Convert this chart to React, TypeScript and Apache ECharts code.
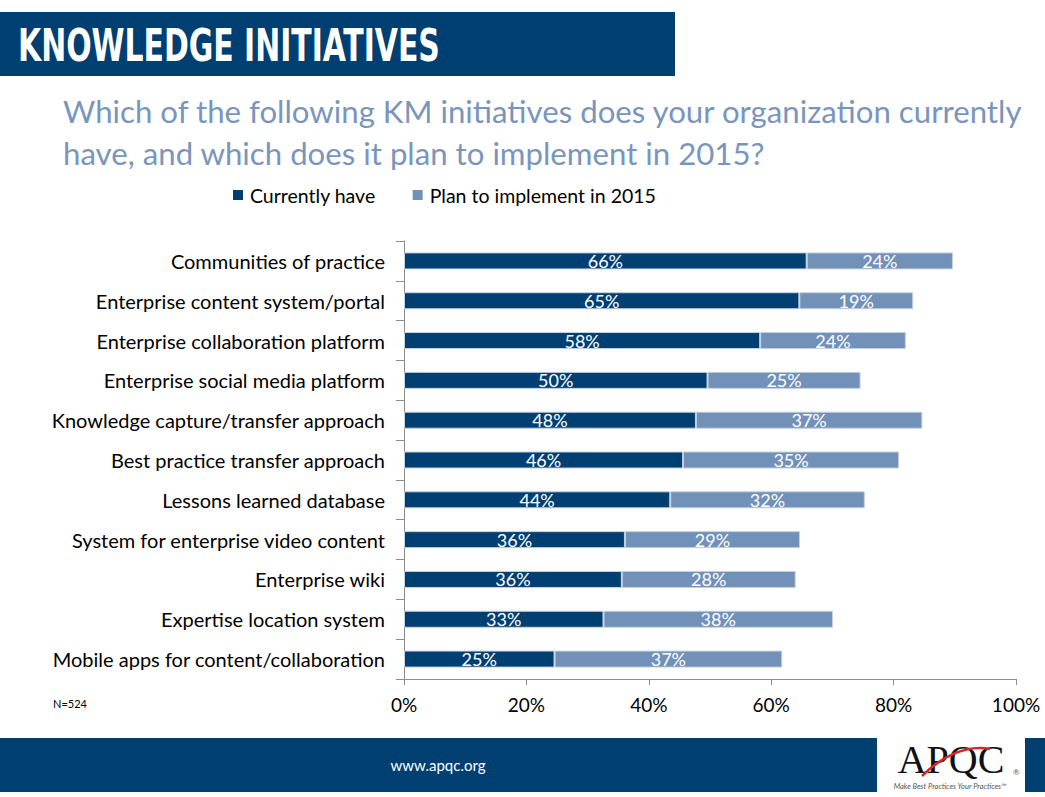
import React, { useEffect, useRef } from "react";
import * as echarts from "echarts";

const categories = [
  "Communities of practice",
  "Enterprise content system/portal",
  "Enterprise collaboration platform",
  "Enterprise social media platform",
  "Knowledge capture/transfer approach",
  "Best practice transfer approach",
  "Lessons learned database",
  "System for enterprise video content",
  "Enterprise wiki",
  "Expertise location system",
  "Mobile apps for content/collaboration",
];

const currentlyHave = [65.8, 64.6, 58.2, 49.6, 47.7, 45.6, 43.5, 36.1, 35.6, 32.6, 24.6];
const planIn2015 = [23.9, 18.6, 23.8, 25.0, 37.0, 35.3, 31.8, 28.6, 28.4, 37.5, 37.2];

const xTicks = [0, 20, 40, 60, 80, 100];

const DARK = "#003f72";
const LIGHT = "#7191b8";
const FONT = "Lato, 'Open Sans', sans-serif";
const NARROW = "'Liberation Sans Narrow', 'DejaVu Sans Condensed', 'Roboto', sans-serif";

export default function App() {
  const ref = useRef<HTMLDivElement>(null);

  useEffect(() => {
    if (!ref.current) return;
    const chart = echarts.init(ref.current, null, { renderer: "svg" });
    const labelFmt = (p: any) => Math.round(p.value) + "%";
    chart.setOption({
      animation: false,
      backgroundColor: "#ffffff",
      grid: { left: 404, right: 29, top: 241, bottom: 118, containLabel: false },
      legend: {
        left: 233,
        top: 185,
        padding: 0,
        itemWidth: 10,
        itemHeight: 10,
        itemGap: 37,
        icon: "rect",
        itemStyle: { borderWidth: 0 },
        textStyle: { fontSize: 19.5, fontFamily: FONT, color: "#000", padding: [0, 0, 0, 2] },
        data: ["Currently have", "Plan to implement in 2015"],
      },
      xAxis: {
        type: "value",
        min: xTicks[0],
        max: xTicks[xTicks.length - 1],
        interval: 20,
        axisLine: { show: true, lineStyle: { color: "#8c8c8c", width: 1 } },
        axisTick: { show: true, length: 6, lineStyle: { color: "#8c8c8c" } },
        splitLine: { show: false },
        axisLabel: {
          formatter: "{value}%",
          fontSize: 19,
          fontFamily: FONT,
          color: "#000",
          margin: 16,
        },
      },
      yAxis: {
        type: "category",
        data: categories,
        inverse: true,
        axisLine: { show: true, lineStyle: { color: "#8c8c8c", width: 1 } },
        axisTick: { show: true, length: 8, lineStyle: { color: "#8c8c8c" } },
        axisLabel: { fontSize: 20, fontFamily: FONT, color: "#000", margin: 19 },
      },
      series: [
        {
          name: "Currently have",
          type: "bar",
          stack: "total",
          data: currentlyHave,
          barWidth: 17,
          itemStyle: { color: DARK, borderColor: "#c6d0de", borderWidth: 1 },
          label: {
            show: true,
            position: "inside",
            formatter: labelFmt,
            color: "#fff",
            fontSize: 18,
            fontFamily: FONT,
          },
        },
        {
          name: "Plan to implement in 2015",
          type: "bar",
          stack: "total",
          data: planIn2015,
          barWidth: 17,
          itemStyle: { color: LIGHT, borderColor: "#c6d0de", borderWidth: 1 },
          label: {
            show: true,
            position: "inside",
            formatter: labelFmt,
            color: "#fff",
            fontSize: 18,
            fontFamily: FONT,
          },
        },
      ],
      graphic: [
        { type: "rect", shape: { x: 0, y: 12, width: 675, height: 64 }, style: { fill: DARK }, silent: true },
        {
          type: "text",
          x: 18,
          y: 46,
          scaleX: 0.755,
          style: {
            text: "KNOWLEDGE INITIATIVES",
            fill: "#fff",
            fontSize: 44,
            fontWeight: "bold",
            fontFamily: NARROW,
            verticalAlign: "middle",
          },
        },
        {
          type: "text",
          x: 63,
          y: 111,
          style: {
            text: "Which of the following KM initiatives does your organization currently",
            fill: "#7a95bd",
            fontSize: 31.2,
            fontFamily: FONT,
            verticalAlign: "middle",
          },
        },
        {
          type: "text",
          x: 63,
          y: 153,
          style: {
            text: "have, and which does it plan to implement in 2015?",
            fill: "#7a95bd",
            fontSize: 31.2,
            fontFamily: FONT,
            verticalAlign: "middle",
          },
        },
        {
          type: "text",
          x: 53,
          y: 703,
          style: { text: "N=524", fill: "#000", fontSize: 11, fontFamily: FONT, verticalAlign: "middle" },
        },
        { type: "rect", shape: { x: 0, y: 738, width: 1045, height: 54 }, style: { fill: DARK }, silent: true },
        { type: "rect", shape: { x: 877, y: 738, width: 148, height: 54 }, style: { fill: "#fff" }, silent: true },
        {
          type: "text",
          x: 438,
          y: 765,
          style: {
            text: "www.apqc.org",
            fill: "#fff",
            fontSize: 15,
            fontFamily: FONT,
            align: "center",
            verticalAlign: "middle",
          },
        },
        {
          type: "text",
          x: 951,
          y: 759,
          style: {
            text: "APQC",
            fill: "#111",
            fontSize: 40,
            fontFamily: "'Liberation Serif', serif",
            align: "center",
            verticalAlign: "middle",
          },
        },
        {
          type: "bezierCurve",
          shape: { x1: 922, y1: 776, x2: 990, y2: 749, cpx1: 940, cpy1: 758, cpx2: 965, cpy2: 744 },
          style: { stroke: "#d7262b", lineWidth: 2.5, fill: "none" },
        },
        {
          type: "text",
          x: 1013,
          y: 772,
          style: { text: "®", fill: "#555", fontSize: 8, fontFamily: FONT, verticalAlign: "middle" },
        },
        {
          type: "text",
          x: 950,
          y: 786,
          style: {
            text: "Make Best Practices Your Practices℠",
            fill: "#555",
            fontSize: 7.5,
            fontStyle: "italic",
            fontFamily: FONT,
            align: "center",
            verticalAlign: "middle",
          },
        },
      ],
    });
    return () => chart.dispose();
  }, []);

  return (
    <div
      ref={ref}
      style={{ position: "absolute", left: 0, top: 0, width: 1045, height: 797 }}
    />
  );
}
